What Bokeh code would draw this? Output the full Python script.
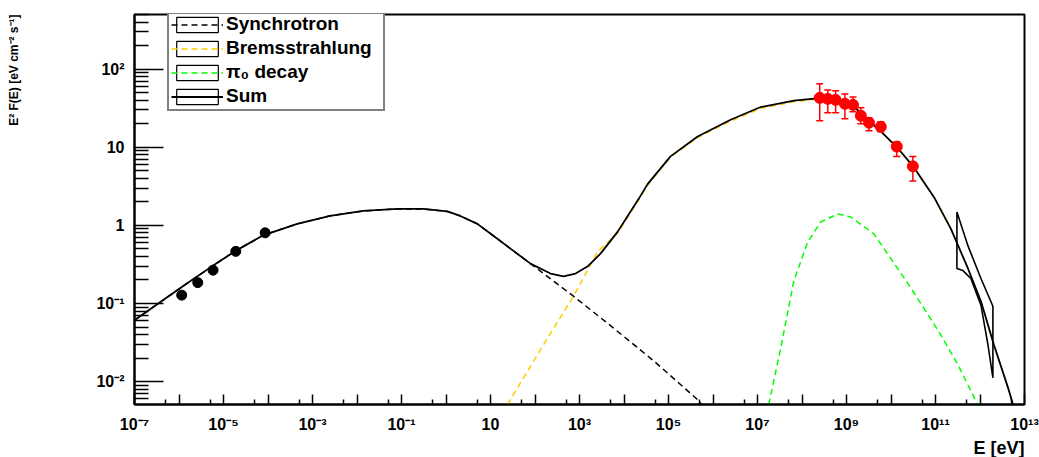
import math
import numpy as np
from bokeh.plotting import figure
from bokeh.models import (ColumnDataSource, Range1d, FixedTicker, CustomJSTickFormatter,
                          Legend, LegendItem, Whisker, TeeHead, Title)
from bokeh.embed import file_html
from bokeh.resources import INLINE

# ---------------- data ----------------
# Sum of all components (solid black)
sum_E = [1.0e-7, 3.75e-7, 1.37e-6, 5.00e-6, 1.82e-5, 7.78e-5, 4.53e-4, 2.50e-3, 1.38e-2, 8.05e-2, 0.309,
         1.07, 2.10, 5.07, 11.6, 28.1, 79.1, 223, 437, 813, 1510, 2970, 7160, 2.12e4, 3.39e4,
         1.11e5, 4.52e5, 2.49e6, 1.18e7, 6.62e7, 1.87e8, 3.55e8, 7.94e8, 1.77e9, 2.96e9, 5.92e9,
         1.40e10, 3.31e10, 9.33e10, 2.22e11, 5.36e11, 1.05e12, 2.06e12, 4.26e12, 5.51e12]
sum_F = [0.0612, 0.1038, 0.174, 0.288, 0.468, 0.746, 1.045, 1.327, 1.531, 1.625, 1.625,
         1.507, 1.32, 1.045, 0.736, 0.504, 0.324, 0.242, 0.222, 0.242, 0.297, 0.435, 0.826, 2.17, 3.37,
         7.64, 13.7, 22.5, 32.7, 39.5, 42.0, 42.5, 37.6, 30.1, 22.5, 16.0,
         9.84, 5.48, 2.28, 0.904, 0.281, 0.107, 0.0295, 0.00839, 0.0051]

# Synchrotron (black dashed)
sync_E = [1.0e-7, 3.75e-7, 1.37e-6, 5.00e-6, 1.82e-5, 7.78e-5, 4.53e-4, 2.50e-3, 1.38e-2, 8.05e-2, 0.309,
          1.07, 2.10, 5.07, 11.6, 28.1, 79.1, 733, 5820, 4.62e4, 4.75e5, 5.56e5]
sync_F = [0.0612, 0.1038, 0.174, 0.288, 0.468, 0.746, 1.045, 1.327, 1.531, 1.625, 1.625,
          1.507, 1.32, 1.045, 0.736, 0.504, 0.324, 0.124, 0.0485, 0.0185, 0.00574, 0.0051]

# Bremsstrahlung (orange dashed)
brems_E = [24.0, 132, 733, 2540, 7160, 2.12e4, 3.39e4, 1.11e5, 4.52e5, 2.49e6, 1.18e7, 6.62e7,
           1.87e8, 3.55e8, 7.94e8, 1.77e9, 2.96e9, 5.92e9, 1.40e10, 3.31e10, 9.33e10, 2.22e11,
           5.36e11, 1.05e12, 2.06e12, 4.26e12, 5.51e12]
brems_F = [0.0051, 0.0255, 0.124, 0.460, 0.794, 2.09, 3.27, 7.50, 13.3, 21.6, 31.4, 38.2,
           40.7, 41.2, 36.7, 29.6, 22.2, 15.9, 9.82, 5.47, 2.28, 0.902,
           0.280, 0.107, 0.0294, 0.00837, 0.0051]

# pi0 decay (green dashed)
pi0_E = [1.79e7, 3.33e7, 6.53e7, 1.35e8, 2.64e8, 6.38e8, 1.25e9, 4.11e9, 9.93e9, 2.39e10,
         5.48e10, 1.32e11, 3.20e11, 8.85e11]
pi0_F = [0.0051, 0.0270, 0.192, 0.617, 1.107, 1.40, 1.28, 0.780, 0.376, 0.181,
         0.0871, 0.0395, 0.0164, 0.0051]

# butterfly (black outline)
bow_E = [3.03e11, 5.35e11, 1.05e12, 1.95e12, 1.95e12, 1.51e12, 1.05e12, 6.25e11, 4.13e11, 3.03e11, 3.03e11]
bow_F = [1.48, 0.550, 0.209, 0.0923, 0.0112, 0.0295, 0.0951, 0.209, 0.264, 0.281, 1.48]

# low-energy points (black)
radio_E = [1.15e-6, 2.64e-6, 5.83e-6, 1.89e-5, 8.63e-5]
radio_F = [0.128, 0.185, 0.267, 0.465, 0.803]

# gamma-ray points (red) with error bars
gam_E = [2.5e8, 3.8e8, 5.7e8, 9.2e8, 1.4e9, 2.1e9, 3.2e9, 5.9e9, 1.35e10, 3.1e10]
gam_F = [42.9, 41.6, 40.4, 36.0, 34.9, 25.3, 20.6, 18.3, 10.2, 5.7]
gam_up = [65.0, 54.1, 53.0, 48.2, 44.1, 32.0, 23.9, 21.2, 11.8, 7.6]
gam_lo = [21.9, 27.6, 27.6, 23.2, 28.4, 20.0, 16.3, 15.8, 7.6, 3.7]

# axis tick labels (decade exponent -> text)
x_tick_exps = [-7, -5, -3, -1, 1, 3, 5, 7, 9, 11, 13]
x_tick_labels = ["10\u207b\u2077", "10\u207b\u2075", "10\u207b\u00b3", "10\u207b\u00b9", "10",
                 "10\u00b3", "10\u2075", "10\u2077", "10\u2079", "10\u00b9\u00b9", "10\u00b9\u00b3"]
y_tick_exps = [-2, -1, 0, 1, 2]
y_tick_labels = ["10\u207b\u00b2", "10\u207b\u00b9", "1", "10", "10\u00b2"]

x_title = "E [eV]"
y_title = "E\u00b2 F(E) [eV cm\u207b\u00b2 s\u207b\u00b9]"
legend_labels = ["Synchrotron", "Bremsstrahlung", "\u03c0\u2080 decay", "Sum"]

X_START, X_END = 1e-7, 1e13
Y_START, Y_END = 0.0051, 500

FONT = "Liberation Sans"
ORANGE = "#ffcc00"
GREEN = "#00ff00"

# ---------------- figure ----------------
p = figure(width=1039, height=457, x_axis_type="log", y_axis_type="log",
           x_range=Range1d(X_START, X_END), y_range=Range1d(Y_START, Y_END),
           output_backend="svg", toolbar_location=None,
           min_border_left=134, min_border_right=15, min_border_top=14, min_border_bottom=50)
p.background_fill_color = "white"
p.border_fill_color = "white"
p.outline_line_color = "black"
p.outline_line_width = 2
p.xgrid.visible = False
p.ygrid.visible = False

fmt_code = """
const n = Math.round(Math.log10(tick));
const i = exps.indexOf(n);
return i >= 0 ? labels[i] : "";
"""
p.xaxis.formatter = CustomJSTickFormatter(args=dict(exps=x_tick_exps, labels=x_tick_labels), code=fmt_code)
p.yaxis.formatter = CustomJSTickFormatter(args=dict(exps=y_tick_exps, labels=y_tick_labels), code=fmt_code)
p.xaxis.ticker = FixedTicker(ticks=[10.0 ** k for k in range(-7, 14)],
                             minor_ticks=[5 * 10.0 ** k for k in range(-7, 13)])
p.yaxis.ticker = FixedTicker(ticks=[10.0 ** k for k in range(-2, 3)],
                             minor_ticks=[m * 10.0 ** k for k in range(-3, 3) for m in range(2, 10)
                                          if Y_START <= m * 10.0 ** k <= Y_END])
for ax, mj, mn in ((p.xaxis, 10, 5), (p.yaxis, 29, 14)):
    ax.axis_line_width = 2
    ax.axis_line_color = "black"
    ax.major_tick_in = mj
    ax.major_tick_out = 0
    ax.minor_tick_in = mn
    ax.minor_tick_out = 0
    ax.major_tick_line_width = 1.5
    ax.minor_tick_line_width = 1.5
    ax.major_tick_line_color = "black"
    ax.minor_tick_line_color = "black"
    ax.major_label_text_font = FONT
    ax.major_label_text_font_style = "bold"
    ax.major_label_text_font_size = "16px"
    ax.major_label_text_color = "black"

p.xaxis.major_label_standoff = 11
p.yaxis.major_label_standoff = 10

# axis titles as side titles (right/top aligned like the reference)
p.add_layout(Title(text=x_title, align="right", text_font=FONT, text_font_style="bold",
                   text_font_size="18px", text_color="black", standoff=0), "below")
# blank spacer between the y tick labels and the y title
p.add_layout(Title(text=" ", text_font_size="1px", standoff=70), "left")
p.add_layout(Title(text=y_title, align="right", vertical_align="bottom", text_font=FONT,
                   text_font_style="bold", text_font_size="12px", text_color="black",
                   standoff=0), "left")

# ---------------- curves ----------------
sync_r = p.line(sync_E, sync_F, line_color="black", line_width=1.5, line_dash="6 4")
brems_r = p.line(brems_E, brems_F, line_color=ORANGE, line_width=1.5, line_dash="6 4")
pi0_r = p.line(pi0_E, pi0_F, line_color=GREEN, line_width=1.5, line_dash="6 4")
sum_r = p.line(sum_E, sum_F, line_color="black", line_width=1.8)
p.line(bow_E, bow_F, line_color="black", line_width=1.6)

# points
p.scatter(radio_E, radio_F, size=10, color="black")
gsrc = ColumnDataSource(dict(E=gam_E, F=gam_F, up=gam_up, lo=gam_lo))
p.add_layout(Whisker(source=gsrc, base="E", upper="up", lower="lo", dimension="height",
                     line_color="red", line_width=1.5, level="glyph",
                     upper_head=TeeHead(size=7, line_color="red", line_width=1.5),
                     lower_head=TeeHead(size=7, line_color="red", line_width=1.5)))
p.scatter("E", "F", source=gsrc, size=11, color="red")

# ---------------- legend ----------------
nan1 = np.array([np.nan])
box_r = p.quad(left=nan1, right=nan1, top=nan1, bottom=nan1, fill_color=None,
               line_color="black", line_width=1.2)
items = [LegendItem(label=lab, renderers=[box_r, r])
         for lab, r in zip(legend_labels, [sync_r, brems_r, pi0_r, sum_r])]
legend = Legend(items=items, location=(33, 293), orientation="vertical",
                border_line_color="black", border_line_width=2,
                background_fill_color="white", background_fill_alpha=1.0,
                label_text_font=FONT, label_text_font_style="bold",
                label_text_font_size="19px", label_text_color="black",
                glyph_width=52, glyph_height=19, label_standoff=3, label_width=155,
                label_height=19, padding=2, spacing=2, margin=0)
p.add_layout(legend)

open("out.html", "w").write(file_html(p, INLINE))
